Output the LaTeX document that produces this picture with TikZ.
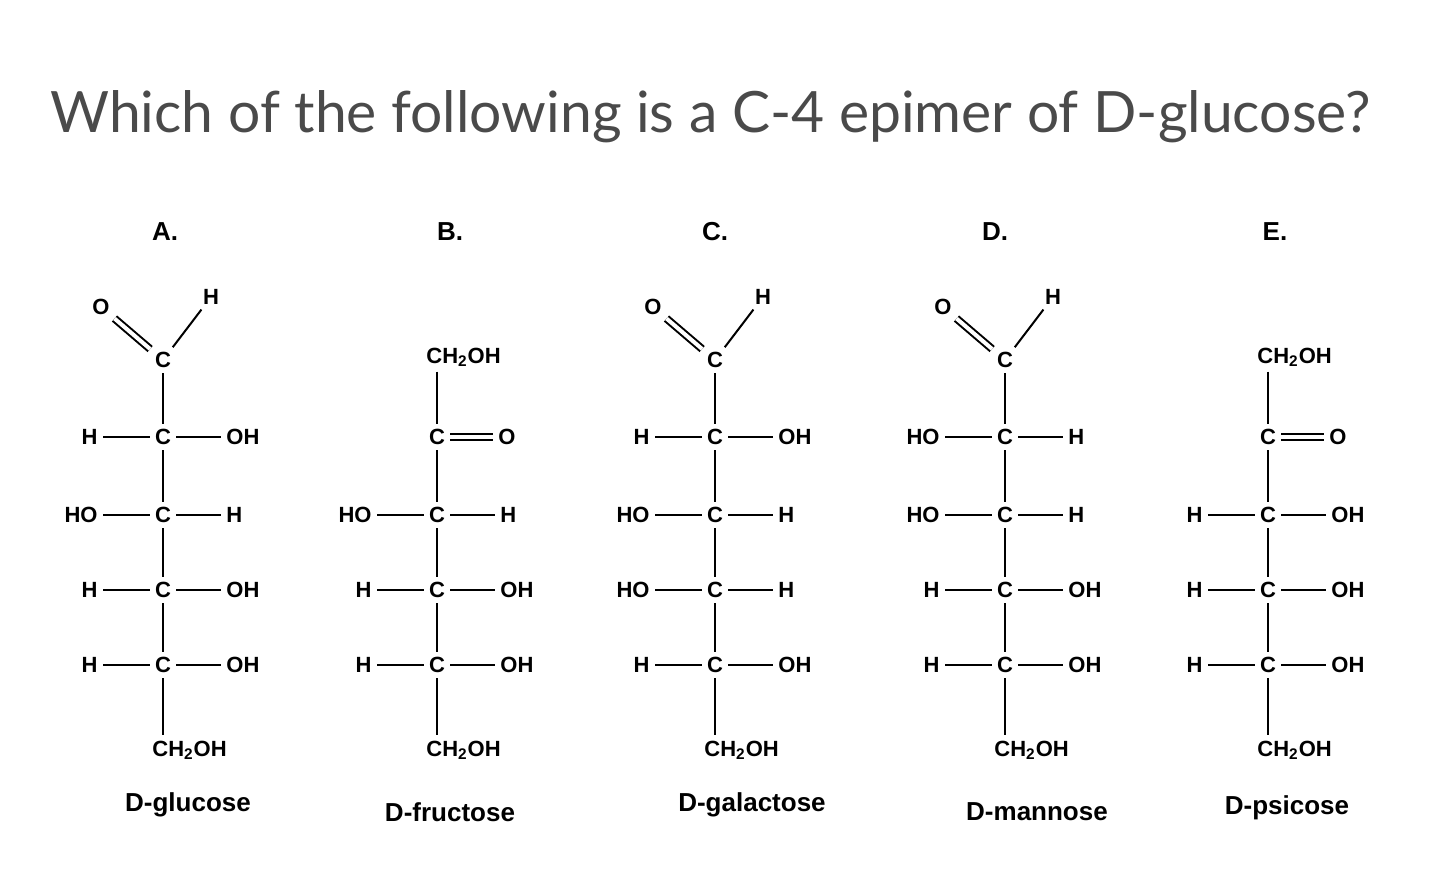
\documentclass[tikz,border=0pt]{standalone}
\usepackage{fontspec}
\setmainfont{Liberation Sans}
\newfontfamily\titlefont{Lato}
\usetikzlibrary{calc}
\definecolor{ttl}{HTML}{4A4A4A}
\tikzset{atm/.style={inner sep=1.5pt,font=\fontsize{11}{12}\selectfont\bfseries},
 lbl/.style={inner sep=0pt,font=\fontsize{13}{15}\selectfont\bfseries},
 bond/.style={line width=1pt,shorten <=1pt,shorten >=1pt}}
\newcommand\crow[5]{%
 \node[atm] (#1) at (#2,#3) {C};
 \node[atm,anchor=east] (#1l) at (#2-62,#3) {#4};
 \node[atm,anchor=west] (#1r) at (#2+60,#3) {#5};
 \draw[bond] (#1l) -- (#1); \draw[bond] (#1) -- (#1r);}
\newcommand\ald[2]{%
 \node[atm] (#1) at (#2,360) {C};
 \node[atm] (#1o) at (#2-62,307) {O};
 \node[atm] (#1h) at (#2+48,297) {H};
 \draw[bond,double,double distance=2pt] (#1o) -- (#1);
 \draw[bond] (#1) -- (#1h);}
\newcommand\ket[2]{%
 \node[atm,anchor=west] (#1t) at (#2-14,357) {CH\textsubscript{2}OH};
 \node[atm] (#1) at (#2,437) {C};
 \node[atm] (#1o) at (#2+70,437) {O};
 \draw[bond] (#1 |- #1t.south) -- (#1);
 \draw[bond,double,double distance=2pt] (#1) -- (#1o);}
\newcommand\sugbot[2]{%
 \node[atm,anchor=west] (#1b) at (#2-14,750) {CH\textsubscript{2}OH};}
\begin{document}
\begin{tikzpicture}[x=0.5pt,y=-0.5pt]
\useasboundingbox (0,0) rectangle (1440,895);
\node[anchor=west,inner sep=0pt,text=ttl,font=\titlefont\fontsize{28.5}{32}\selectfont] (title) at (50,117) {Which of the following is a C-4 epimer of D-glucose?};
\foreach \l/\x in {A/165,B/450,C/715,D/995,E/1275}
 \node[lbl] (let\l) at (\x,232) {\l.};
% A
\ald{a0}{163}
\crow{a1}{163}{437}{H}{OH}
\crow{a2}{163}{515}{HO}{H}
\crow{a3}{163}{590}{H}{OH}
\crow{a4}{163}{665}{H}{OH}
\sugbot{a5}{163}
% B
\ket{b0}{437}
\crow{b2}{437}{515}{HO}{H}
\crow{b3}{437}{590}{H}{OH}
\crow{b4}{437}{665}{H}{OH}
\sugbot{b5}{437}
% C
\ald{c0}{715}
\crow{c1}{715}{437}{H}{OH}
\crow{c2}{715}{515}{HO}{H}
\crow{c3}{715}{590}{HO}{H}
\crow{c4}{715}{665}{H}{OH}
\sugbot{c5}{715}
% D
\ald{d0}{1005}
\crow{d1}{1005}{437}{HO}{H}
\crow{d2}{1005}{515}{HO}{H}
\crow{d3}{1005}{590}{H}{OH}
\crow{d4}{1005}{665}{H}{OH}
\sugbot{d5}{1005}
% E
\ket{e0}{1268}
\crow{e2}{1268}{515}{H}{OH}
\crow{e3}{1268}{590}{H}{OH}
\crow{e4}{1268}{665}{H}{OH}
\sugbot{e5}{1268}
% vertical bonds
\foreach \p in {a,c,d}{
 \draw[bond] (\p0) -- (\p1); \draw[bond] (\p1) -- (\p2);
 \draw[bond] (\p2) -- (\p3); \draw[bond] (\p3) -- (\p4);
 \draw[bond] (\p4) -- (\p4 |- \p5b.north);}
\foreach \p in {b,e}{
 \draw[bond] (\p0) -- (\p2);
 \draw[bond] (\p2) -- (\p3); \draw[bond] (\p3) -- (\p4);
 \draw[bond] (\p4) -- (\p4 |- \p5b.north);}
\node[lbl] (na) at (188,805) {D-glucose};
\node[lbl] (nb) at (450,812) {D-fructose};
\node[lbl] (nc) at (752,805) {D-galactose};
\node[lbl] (nd) at (1037,812) {D-mannose};
\node[lbl] (ne) at (1287,808) {D-psicose};
\end{tikzpicture}
\end{document}
